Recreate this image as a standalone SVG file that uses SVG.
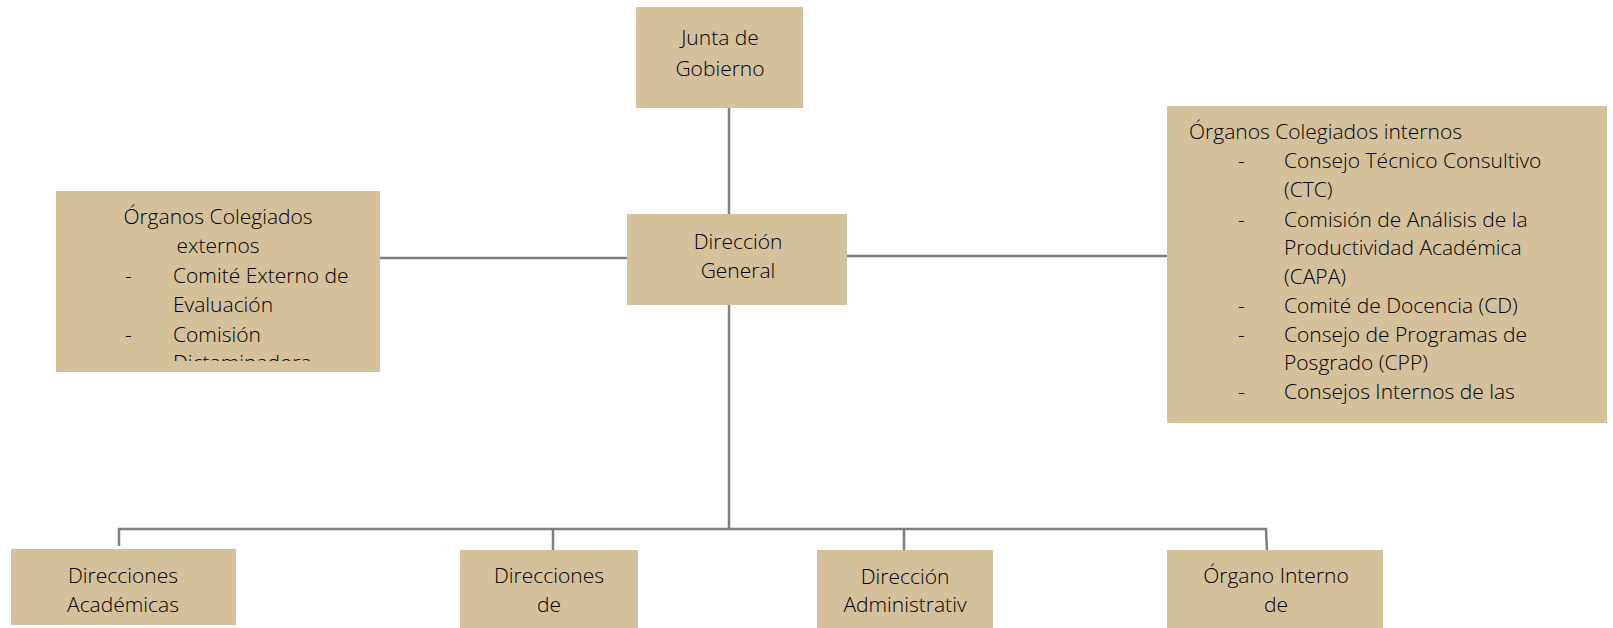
<svg xmlns="http://www.w3.org/2000/svg" width="1613" height="628" viewBox="0 0 1613 628">
  <style>
    .box { fill: #D4C19C; }
    .t { font-family: "Open Sans", "Noto Sans", "Liberation Sans", sans-serif; font-weight: 300; font-size: 21px; fill: #000000; }
    .c { text-anchor: middle; }
    .conn { stroke: #7f7f7f; stroke-width: 2.5; fill: none; }
  </style>
  <defs>
    <clipPath id="clipLeft"><rect x="56" y="191" width="324" height="170"/></clipPath>
    <clipPath id="clipRight"><rect x="1167" y="106" width="440" height="317"/></clipPath>
  </defs>

  <g id="connectors">
    <line class="conn" x1="729" y1="108" x2="729" y2="214"/>
    <line class="conn" x1="380" y1="258" x2="627" y2="258"/>
    <line class="conn" x1="847" y1="256" x2="1167" y2="256"/>
    <line class="conn" x1="729" y1="305" x2="729" y2="529"/>
    <polyline class="conn" points="119,546 119,529 1266,529 1267,550"/>
    <line class="conn" x1="553" y1="529" x2="553" y2="550"/>
    <line class="conn" x1="904" y1="529" x2="904" y2="550"/>
  </g>

  <g id="junta">
    <rect class="box" x="636" y="7" width="167" height="101"/>
    <text class="t c" x="720" y="45">Junta de</text>
    <text class="t c" x="720" y="76">Gobierno</text>
  </g>

  <g id="direccion-general">
    <rect class="box" x="627" y="214" width="220" height="91"/>
    <text class="t c" x="738" y="249">Dirección</text>
    <text class="t c" x="738" y="278">General</text>
  </g>

  <g id="organos-externos">
    <rect class="box" x="56" y="191" width="324" height="181"/>
    <g clip-path="url(#clipLeft)">
      <text class="t c" x="218" y="224">Órganos Colegiados</text>
      <text class="t c" x="218" y="253">externos</text>
      <text class="t" x="125" y="283">-</text>
      <text class="t" x="173" y="283">Comité Externo de</text>
      <text class="t" x="173" y="312">Evaluación</text>
      <text class="t" x="125" y="342">-</text>
      <text class="t" x="173" y="342">Comisión</text>
      <text class="t" x="173" y="370">Dictaminadora</text>
    </g>
  </g>

  <g id="organos-internos">
    <rect class="box" x="1167" y="106" width="440" height="317"/>
    <g clip-path="url(#clipRight)">
      <text class="t" x="1189" y="139">Órganos Colegiados internos</text>
      <text class="t" x="1238" y="168">-</text>
      <text class="t" x="1284" y="168">Consejo Técnico Consultivo</text>
      <text class="t" x="1284" y="197">(CTC)</text>
      <text class="t" x="1238" y="227">-</text>
      <text class="t" x="1284" y="227">Comisión de Análisis de la</text>
      <text class="t" x="1284" y="255">Productividad Académica</text>
      <text class="t" x="1284" y="284">(CAPA)</text>
      <text class="t" x="1238" y="313">-</text>
      <text class="t" x="1284" y="313">Comité de Docencia (CD)</text>
      <text class="t" x="1238" y="342">-</text>
      <text class="t" x="1284" y="342">Consejo de Programas de</text>
      <text class="t" x="1284" y="370">Posgrado (CPP)</text>
      <text class="t" x="1238" y="399">-</text>
      <text class="t" x="1284" y="399">Consejos Internos de las</text>
    </g>
  </g>

  <g id="direcciones-academicas">
    <rect class="box" x="11" y="549" width="225" height="76"/>
    <text class="t c" x="123" y="583">Direcciones</text>
    <text class="t c" x="123" y="612">Académicas</text>
  </g>

  <g id="direcciones-de">
    <rect class="box" x="460" y="550" width="178" height="80"/>
    <text class="t c" x="549" y="583">Direcciones</text>
    <text class="t c" x="549" y="612">de</text>
  </g>

  <g id="direccion-administrativa">
    <rect class="box" x="817" y="550" width="176" height="80"/>
    <text class="t c" x="905" y="584">Dirección</text>
    <text class="t c" x="905" y="612">Administrativ</text>
  </g>

  <g id="organo-interno">
    <rect class="box" x="1167" y="550" width="216" height="80"/>
    <text class="t c" x="1276" y="583">Órgano Interno</text>
    <text class="t c" x="1276" y="612">de</text>
  </g>
</svg>
